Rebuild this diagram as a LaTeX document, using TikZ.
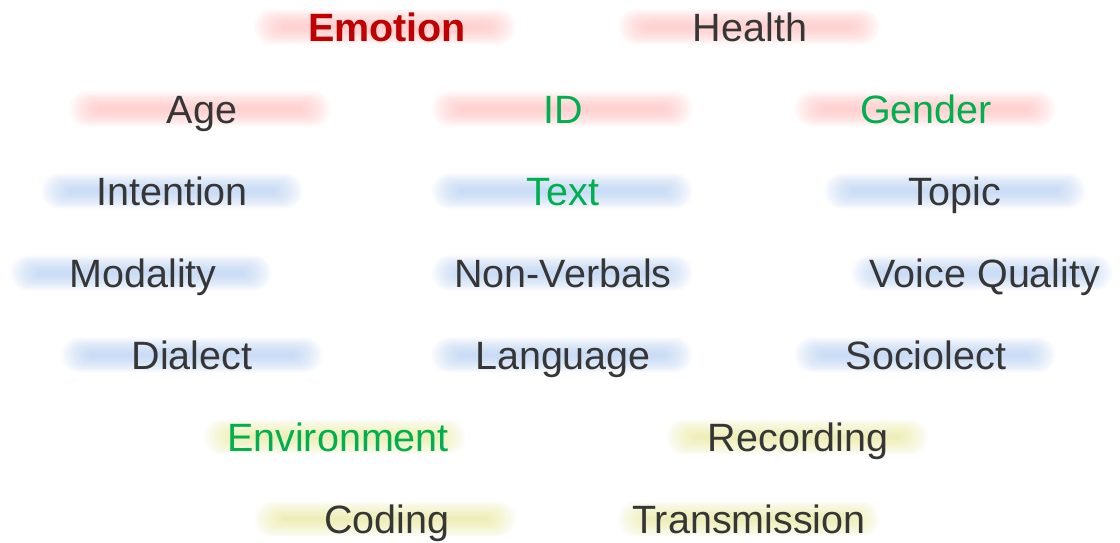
\documentclass[tikz,border=0pt]{standalone}
\usepackage{fontspec}
\setmainfont{Liberation Sans}
\usetikzlibrary{backgrounds}
\definecolor{txt}{HTML}{363636}
\definecolor{grn}{HTML}{00B050}
\definecolor{redt}{HTML}{C00000}
\definecolor{barR}{HTML}{FFBFBF}
\definecolor{barB}{HTML}{B4D0F6}
\definecolor{barY}{HTML}{ECEC9C}
\tikzset{
  lbl/.style={anchor=base, inner sep=0pt, text=txt, font=\fontsize{39.5}{42}\selectfont},
  lblg/.style={lbl, text=grn},
  lblr/.style={lbl, text=redt, font=\fontsize{39.5}{42}\selectfont\bfseries},
}
\newcommand\glowbar[3]{% baseline y, colour, x-centre
  \foreach \k in {0,...,13}{%
    \fill[#2, opacity=0.07, rounded corners={(2+1.2*\k)*1pt}]
      ({#3-102-2.2*\k}, {#1-14-2-1.2*\k}) rectangle ({#3+102+2.2*\k}, {#1-14+2+1.2*\k});
  }}
\begin{document}
\begin{tikzpicture}[x=1pt, y=-1pt]
\useasboundingbox (0,0) rectangle (1120,542);
% row 1
\node[lblr] (emotion) at (387,41) {Emotion};
\node[lbl]  (health)  at (750,41) {Health};
% row 2
\node[lbl]  (age)    at (202,123) {Age};
\node[lblg] (id)     at (563,123) {ID};
\node[lblg] (gender) at (926,123) {Gender};
% row 3
\node[lbl]  (intention) at (172,205) {Intention};
\node[lblg] (text)      at (563,205) {Text};
\node[lbl]  (topic)     at (955,205) {Topic};
% row 4
\node[lbl] (modality)  at (143,287) {Modality};
\node[lbl] (nonverbal) at (563,287) {Non-Verbals};
\node[lbl] (voice)     at (985,287) {Voice Quality};
% row 5
\node[lbl] (dialect)   at (192,369) {Dialect};
\node[lbl] (language)  at (563,369) {Language};
\node[lbl] (sociolect) at (926,369) {Sociolect};
% row 6
\node[lblg] (environment) at (338,451) {Environment};
\node[lbl]  (recording)   at (798,451) {Recording};
% row 7
\node[lbl] (coding)       at (387,533) {Coding};
\node[lbl] (transmission) at (749,533) {Transmission};
\begin{scope}[on background layer]
\fill[white] (0,0) rectangle (1120,542);
\glowbar{41}{barR}{385}
\glowbar{41}{barR}{749}
\glowbar{123}{barR}{200}
\glowbar{123}{barR}{562}
\glowbar{123}{barR}{925}
\glowbar{205}{barB}{172}
\glowbar{205}{barB}{562}
\glowbar{205}{barB}{955}
\glowbar{287}{barB}{141}
\glowbar{287}{barB}{562}
\glowbar{287}{barB}{982}
\glowbar{369}{barB}{192}
\glowbar{369}{barB}{562}
\glowbar{369}{barB}{925}
\glowbar{451}{barY}{335}
\glowbar{451}{barY}{797}
\glowbar{533}{barY}{385}
\glowbar{533}{barY}{749}
\end{scope}
\end{tikzpicture}
\end{document}
